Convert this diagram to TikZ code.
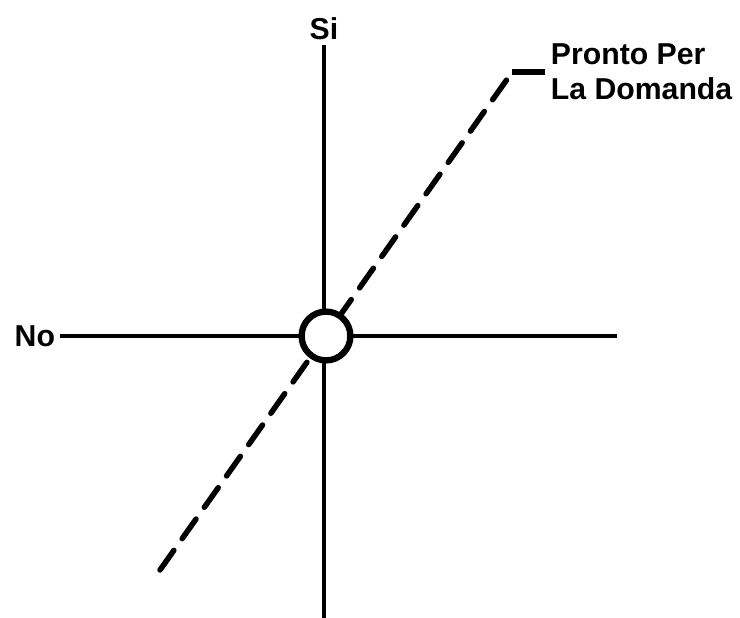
\documentclass[tikz,border=0pt]{standalone}
\usepackage{fontspec}
\setmainfont{Liberation Sans}
\usetikzlibrary{positioning}
\begin{document}
\begin{tikzpicture}[font=\fontsize{21.5}{24.8}\selectfont\bfseries,axis/.style={line width=3.3pt},trend/.style={line width=3.9pt,line cap=round,dash pattern=on 0.6cm off 0.36cm},tick/.style={line width=3.9pt},hub/.style={circle,draw,fill=white,line width=4.5pt,minimum size=1.22cm,inner sep=0pt}]
\useasboundingbox (-8.15,-7.05) rectangle (10.35,8.4);
\coordinate (top) at (-0.05,7.275);
\coordinate (bot) at (-0.05,-7.1);
\coordinate (west) at (-6.65,0);
\coordinate (east) at (7.275,0);
\coordinate (tail) at (-4.15,-5.85);
\coordinate (peak) at (4.55,6.45);
\coordinate (bend) at (4.65,6.6);
\coordinate (hook) at (5.475,6.6);
\node[above=0pt of top] (si) {Si};
\node[left=0pt of west] (no) {No};
\node[right=0pt of hook,align=left,inner sep=4pt] (lab) {Pronto Per\\La Domanda};
\draw[axis] (bot)--(top);
\draw[axis] (west)--(east);
\draw[trend] (tail)--(peak);
\draw[tick] (bend)--(lab.west);
\node[hub] (c) at (0,0) {};
\end{tikzpicture}
\end{document}
